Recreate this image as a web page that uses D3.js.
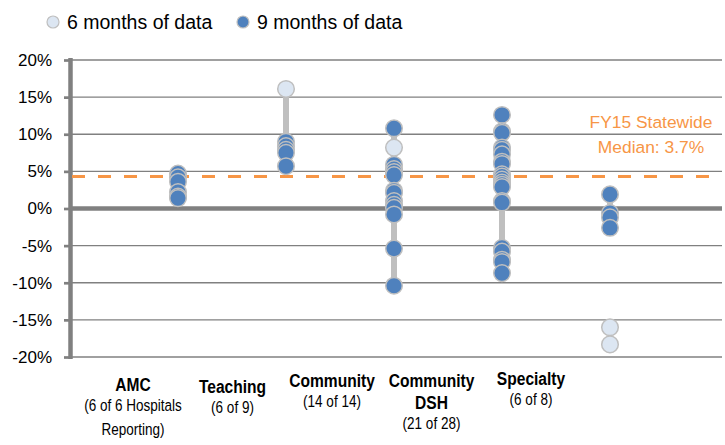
<!DOCTYPE html>
<html>
<head>
<meta charset="utf-8">
<script src="https://cdn.jsdelivr.net/npm/d3@7"></script>
<style>
  body { margin: 0; background: #fff; }
  svg { display: block; font-family: "Liberation Sans", Arial, sans-serif; }
</style>
</head>
<body>
<svg></svg>
<script>
var width = 725, height = 445;

// data
var categories = ["AMC", "Teaching", "Community", "Community DSH", "Specialty"];
var labelLines = [
  ["AMC", "(6 of 6 Hospitals", "Reporting)"],
  ["Teaching", "(6 of 9)"],
  ["Community", "(14 of 14)"],
  ["Community", "DSH", "(21 of 28)"],
  ["Specialty", "(6 of 8)"]
];
var boldLines = [1, 1, 1, 2, 1];
var sixMonths = [
  [],
  [16.1],
  [8.2],
  [],
  [-16.0, -18.3]
];
var nineMonths = [
  [4.7, 4.2, 3.6, 2.2, 1.6, 1.4],
  [9.0, 8.4, 7.9, 7.5, 5.7],
  [10.8, 5.9, 5.3, 4.9, 4.5, 2.4, 2.1, 1.0, 0.5, 0.1, -0.8, -5.4, -10.4],
  [12.6, 10.4, 10.2, 8.2, 7.9, 7.3, 6.3, 6.0, 4.6, 4.3, 3.9, 3.5, 3.2, 2.9, 1.0, 0.8, -5.3, -5.8, -6.9, -7.2, -8.7],
  [1.9, -0.6, -1.2, -2.6]
];
var rangeHigh = [4.7, 16.1, 10.8, 12.6, 1.9];
var rangeLow = [1.4, 5.7, -10.4, -8.7, -2.6];
var yTicks = [-20, -15, -10, -5, 0, 5, 10, 15, 20];
var medianLine = 4.3;
var medianLabel = ["FY15 Statewide", "Median: 3.7%"];
var legendLabels = ["6 months of data", "9 months of data"];

var blue = "#4f81bd", light = "#dce6f2", ring = "#bfbfbf", grid = "#808080", orange = "#f79646";

var svg = d3.select("svg").attr("width", width).attr("height", height);

var x = d3.scalePoint().domain(categories).range([70, 718]).padding(1);
var xLabel = d3.scalePoint().domain(categories).range([133, 531]);
var y = d3.scaleLinear().domain([-20, 20]).range([357, 60]);

// gridlines
svg.append("g")
  .selectAll("line")
  .data(yTicks.filter(d => d !== 0))
  .enter()
  .append("line")
    .attr("x1", 70).attr("x2", 722)
    .attr("y1", d => y(d)).attr("y2", d => y(d))
    .attr("stroke", grid).attr("stroke-width", 1.3);

// y axis
var yAxis = svg.append("g")
  .attr("transform", "translate(70,0)")
  .call(d3.axisLeft(y).tickValues(yTicks).tickSize(6).tickPadding(12).tickFormat(d => d + "%"));
yAxis.select(".domain").remove();
yAxis.selectAll(".tick line").attr("stroke", grid).attr("stroke-width", 2.7);
yAxis.selectAll(".tick text")
  .attr("font-size", 17).attr("fill", "#000")
  .attr("font-family", "'Liberation Sans', Arial, sans-serif");
svg.append("line")
  .attr("x1", 70.5).attr("x2", 70.5)
  .attr("y1", y(20) - 2).attr("y2", y(-20) + 2)
  .attr("stroke", grid).attr("stroke-width", 4.5);

// zero line
svg.append("line")
  .attr("x1", 70).attr("x2", 722)
  .attr("y1", y(0)).attr("y2", y(0))
  .attr("stroke", grid).attr("stroke-width", 4.3);

// median line
svg.append("line")
  .attr("x1", 72).attr("x2", 722)
  .attr("y1", y(medianLine)).attr("y2", y(medianLine))
  .attr("stroke", orange).attr("stroke-width", 3)
  .attr("stroke-dasharray", "13,13");

svg.append("g")
  .selectAll("text")
  .data(medianLabel)
  .enter()
  .append("text")
    .attr("x", 651)
    .attr("y", (d, i) => 128 + i * 25)
    .attr("text-anchor", "middle")
    .attr("font-size", 17.4)
    .attr("fill", orange)
    .text(d => d);

// range lines
svg.append("g")
  .selectAll("line")
  .data(categories)
  .enter()
  .append("line")
    .attr("x1", d => x(d)).attr("x2", d => x(d))
    .attr("y1", (d, i) => y(rangeHigh[i]))
    .attr("y2", (d, i) => y(rangeLow[i]))
    .attr("stroke", ring).attr("stroke-width", 6);

// points
var points = [];
categories.forEach(function(c, i) {
  nineMonths[i].forEach(v => points.push({ cat: c, v: v, fill: blue }));
  sixMonths[i].forEach(v => points.push({ cat: c, v: v, fill: light }));
});

svg.append("g")
  .selectAll("circle")
  .data(points)
  .enter()
  .append("circle")
    .attr("cx", d => x(d.cat))
    .attr("cy", d => y(d.v))
    .attr("r", 8.3)
    .attr("fill", d => d.fill)
    .attr("stroke", ring).attr("stroke-width", 1.5);

// category labels (narrow look: Liberation Sans squeezed horizontally)
var labels = svg.append("g")
  .selectAll("text")
  .data(categories)
  .enter()
  .append("text")
    .attr("text-anchor", "middle")
    .attr("transform", d => "translate(" + xLabel(d) + ",0) scale(0.82,1)");

labels.each(function(d, i) {
  var t = d3.select(this);
  var top = [391, 393, 387, 387, 385][i];
  labelLines[i].forEach(function(line, j) {
    var bold = j < boldLines[i];
    t.append("tspan")
      .attr("x", 0)
      .attr("y", top + j * 22 + (j === boldLines[i] ? -2 : 0))
      .attr("font-weight", bold ? "bold" : "normal")
      .attr("font-size", bold ? 19 : 16.5)
      .attr("fill", "#000")
      .text(line);
  });
});

// legend
var legend = svg.append("g")
  .selectAll("g")
  .data(legendLabels)
  .enter()
  .append("g")
    .attr("transform", (d, i) => "translate(" + [53, 243][i] + ",22)");

legend.append("circle")
  .attr("r", 6)
  .attr("fill", (d, i) => i === 0 ? light : blue)
  .attr("stroke", ring).attr("stroke-width", 1.2);

legend.append("text")
  .attr("x", 14)
  .attr("y", 7)
  .attr("font-size", 19.5)
  .attr("fill", "#000")
  .text(d => d);
</script>
</body>
</html>
